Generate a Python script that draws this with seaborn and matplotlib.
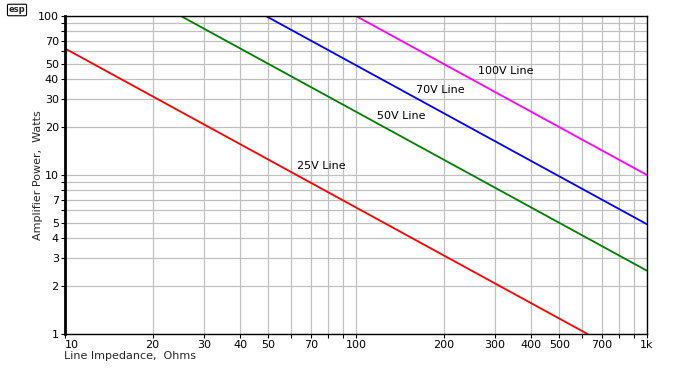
import matplotlib
matplotlib.use("Agg")
import matplotlib.pyplot as plt
import matplotlib.ticker as mticker
import seaborn as sns
import pandas as pd

# Data: endpoints of each line (straight on log-log axes)
line_names = ["25V Line", "50V Line", "70V Line", "100V Line"]
imp_25 = [10, 625]
pow_25 = [62.5, 1.0]
imp_50 = [25, 1000]
pow_50 = [100, 2.5]
imp_70 = [49, 1000]
pow_70 = [100, 4.9]
imp_100 = [100, 1000]
pow_100 = [100, 10]
line_colors = ["#ff0000", "#008000", "#0000ff", "#ff00ff"]

label_x = [62.7, 118, 161, 262]
label_y = [11.4, 23.5, 34.3, 45.1]

x_ticks = [10, 20, 30, 40, 50, 70, 100, 200, 300, 400, 500, 700, 1000]
x_tick_labels = ["10", "20", "30", "40", "50", "70", "100", "200", "300", "400", "500", "700", "1k"]
y_ticks = [1, 2, 3, 4, 5, 7, 10, 20, 30, 40, 50, 70, 100]
y_tick_labels = ["1", "2", "3", "4", "5", "7", "10", "20", "30", "40", "50", "70", "100"]

frames = []
for name, xs, ys in zip(line_names, [imp_25, imp_50, imp_70, imp_100],
                        [pow_25, pow_50, pow_70, pow_100]):
    frames.append(pd.DataFrame({"Impedance": xs, "Power": ys, "Line": name}))
df = pd.concat(frames, ignore_index=True)

sns.set_style("white")
plt.rcParams["font.family"] = ["DejaVu Sans"]

fig = plt.figure(figsize=(7, 3.75), dpi=100)
ax = fig.add_axes([65 / 700, 1 - 334 / 375, (647 - 65) / 700, (334 - 16) / 375])

sns.lineplot(data=df, x="Impedance", y="Power", hue="Line", palette=line_colors,
             hue_order=line_names, linewidth=1.3, legend=False, ax=ax)

ax.set_xscale("log")
ax.set_yscale("log")
ax.set_xlim(10, 1000)
ax.set_ylim(1, 100)

minor_all = [m * 10 ** e for e in range(0, 4) for m in range(1, 10)]
ax.xaxis.set_major_locator(mticker.FixedLocator(x_ticks))
ax.xaxis.set_major_formatter(mticker.FixedFormatter(x_tick_labels))
ax.xaxis.set_minor_locator(mticker.FixedLocator([v for v in minor_all if 10 <= v <= 1000 and v not in x_ticks]))
ax.xaxis.set_minor_formatter(mticker.NullFormatter())
ax.yaxis.set_major_locator(mticker.FixedLocator(y_ticks))
ax.yaxis.set_major_formatter(mticker.FixedFormatter(y_tick_labels))
ax.yaxis.set_minor_locator(mticker.FixedLocator([v for v in minor_all if 1 <= v <= 100 and v not in y_ticks]))
ax.yaxis.set_minor_formatter(mticker.NullFormatter())

ax.grid(True, which="both", color="#c0c0c0", linewidth=0.9)
ax.set_axisbelow(True)

ax.tick_params(axis="both", which="both", direction="out", length=3, width=0.8,
               labelsize=8, colors="black", pad=1.5)
ax.tick_params(axis="y", which="both", left=True)
ax.tick_params(axis="x", which="both", bottom=True)

for side in ["top", "right", "bottom"]:
    ax.spines[side].set_visible(True)
    ax.spines[side].set_color("black")
    ax.spines[side].set_linewidth(1.0)
ax.spines["left"].set_color("black")
ax.spines["left"].set_linewidth(2.0)

fig.canvas.draw()
xlabels = ax.get_xticklabels()
xlabels[0].set_horizontalalignment("left")

for name, lx, ly in zip(line_names, label_x, label_y):
    ax.text(lx, ly, name, fontsize=8, ha="left", va="center", color="black")

ax.set_xlabel("")
ax.set_ylabel("")
fig.text(38 / 700, 1 - 175 / 375, "Amplifier Power,  Watts", rotation=90,
         ha="center", va="center", fontsize=8)
fig.text(64 / 700, 1 - 356 / 375, "Line Impedance,  Ohms", ha="left", va="center", fontsize=8)

fig.text(17 / 700, 1 - 10 / 375, "esp", ha="center", va="center", fontsize=6,
         fontweight="bold",
         bbox=dict(boxstyle="round,pad=0.15", fc="white", ec="black", lw=0.8))

fig.savefig("out.png", dpi=100)
